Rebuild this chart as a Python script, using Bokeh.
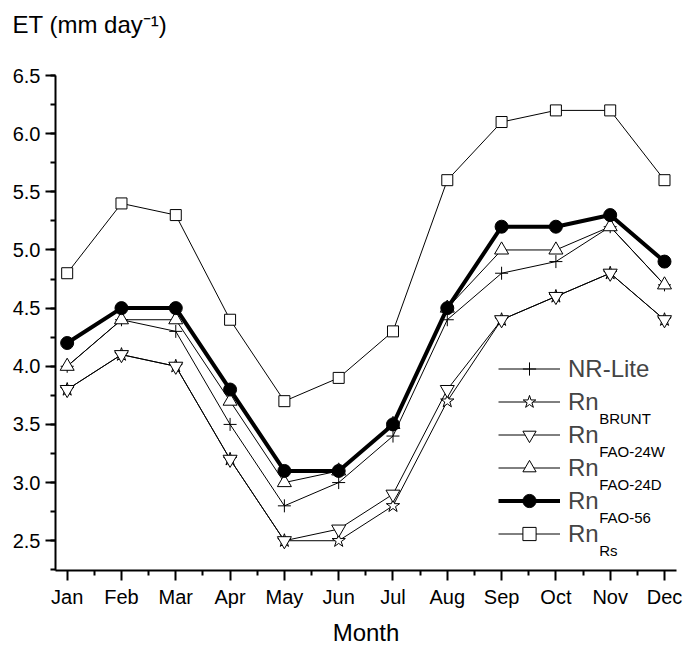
from bokeh.plotting import figure
from bokeh.models import (Range1d, FixedTicker, SingleIntervalTicker, PrintfTickFormatter,
                          Legend, LegendItem, Label, Title)
from bokeh.embed import file_html
from bokeh.resources import INLINE

# ---- data ----
months = ["Jan", "Feb", "Mar", "Apr", "May", "Jun", "Jul", "Aug", "Sep", "Oct", "Nov", "Dec"]
month_num = [1, 2, 3, 4, 5, 6, 7, 8, 9, 10, 11, 12]
nr_lite   = [4.0, 4.4, 4.3, 3.5, 2.8, 3.0, 3.4, 4.4, 4.8, 4.9, 5.2, 4.7]
rn_brunt  = [3.8, 4.1, 4.0, 3.2, 2.5, 2.5, 2.8, 3.7, 4.4, 4.6, 4.8, 4.4]
rn_fao24w = [3.8, 4.1, 4.0, 3.2, 2.5, 2.6, 2.9, 3.8, 4.4, 4.6, 4.8, 4.4]
rn_fao24d = [4.0, 4.4, 4.4, 3.7, 3.0, 3.1, 3.5, 4.5, 5.0, 5.0, 5.2, 4.7]
rn_fao56  = [4.2, 4.5, 4.5, 3.8, 3.1, 3.1, 3.5, 4.5, 5.2, 5.2, 5.3, 4.9]
rn_rs     = [4.8, 5.4, 5.3, 4.4, 3.7, 3.9, 4.3, 5.6, 6.1, 6.2, 6.2, 5.6]

legend_main = ["NR-Lite", "Rn", "Rn", "Rn", "Rn", "Rn"]
legend_sub = ["", "BRUNT", "FAO-24W", "FAO-24D", "FAO-56", "Rs"]
y_title = "ET (mm day\u207b\u00b9)"
x_title = "Month"

FONT = "Liberation Sans"

p = figure(width=683, height=648,
           x_range=Range1d(0.785, 12.221), y_range=Range1d(2.244, 6.5),
           output_backend="svg", toolbar_location=None,
           min_border_left=55, min_border_right=7, min_border_top=75, min_border_bottom=74)
p.title = None
p.outline_line_color = None
p.grid.visible = False
p.background_fill_color = "white"
p.border_fill_color = "white"

# spacer between frame and the top-left title, then the title itself
p.add_layout(Title(text=" ", text_font_size="1px", standoff=35), "above")
p.add_layout(Title(text=y_title, text_font=FONT, text_font_size="24px",
                   text_font_style="normal", text_color="black", align="left",
                   vertical_align="bottom", offset=-43, standoff=0), "above")

# axes
xa = p.xaxis[0]
xa.ticker = FixedTicker(ticks=month_num, minor_ticks=[m + 0.5 for m in month_num[:-1]])
xa.major_label_overrides = {m: lab for m, lab in zip(month_num, months)}
xa.axis_label = x_title
xa.axis_label_text_font = FONT
xa.axis_label_text_font_size = "24px"
xa.axis_label_text_font_style = "normal"
xa.axis_label_text_color = "black"
xa.axis_label_standoff = 8
ya = p.yaxis[0]
ya.ticker = SingleIntervalTicker(interval=0.5, num_minor_ticks=2)
ya.formatter = PrintfTickFormatter(format="%.1f")
for ax in (xa, ya):
    ax.axis_line_width = 2
    ax.axis_line_color = "black"
    ax.major_tick_line_width = 2
    ax.minor_tick_line_width = 2
    ax.major_tick_line_color = "black"
    ax.minor_tick_line_color = "black"
    ax.major_tick_out = 10
    ax.major_tick_in = 0
    ax.minor_tick_out = 5
    ax.minor_tick_in = 0
    ax.major_label_text_font = FONT
    ax.major_label_text_font_size = "20px"
    ax.major_label_text_color = "black"
    ax.major_label_standoff = 5

# series
series = [
    ("rs", rn_rs, "square", 11, 1, "white"),
    ("brunt", rn_brunt, "star", 14, 1, "white"),
    ("fao24w", rn_fao24w, "inverted_triangle", 14, 1, "white"),
    ("nrlite", nr_lite, "cross", 13, 1, "white"),
    ("fao24d", rn_fao24d, "triangle", 14, 1, "white"),
    ("fao56", rn_fao56, "circle", 13, 4, "black"),
]
rend = {}
for key, ys, marker, size, lw, fill in series:
    l = p.line(month_num, ys, line_color="black", line_width=lw)
    s = p.scatter(month_num, ys, marker=marker, size=size, line_color="black",
                  line_width=1, fill_color=fill)
    rend[key] = [l, s]

order = ["nrlite", "brunt", "fao24w", "fao24d", "fao56", "rs"]
items = [LegendItem(label=lab, renderers=rend[k]) for k, lab in zip(order, legend_main)]
LX, LY, GW, GH, STAND = 443, 20, 62, 33, 8
legend = Legend(items=items, location=(LX, LY), glyph_width=GW, glyph_height=GH,
                spacing=0, padding=0, margin=0, label_standoff=STAND,
                label_text_font=FONT, label_text_font_size="24px", label_height=20,
                border_line_alpha=0, background_fill_alpha=0)
p.add_layout(legend)

rn_w = 1.278 * 24
n = len(order)
for i, sub in enumerate(legend_sub):
    if not sub:
        continue
    cy = LY + GH / 2 + GH * (n - 1 - i)
    p.add_layout(Label(x=LX + GW + STAND + rn_w, y=cy - 16, x_units="screen", y_units="screen",
                       text=sub, text_font=FONT, text_font_size="15px",
                       text_baseline="alphabetic", text_color="black"))

open("out.html", "w").write(file_html(p, INLINE))
